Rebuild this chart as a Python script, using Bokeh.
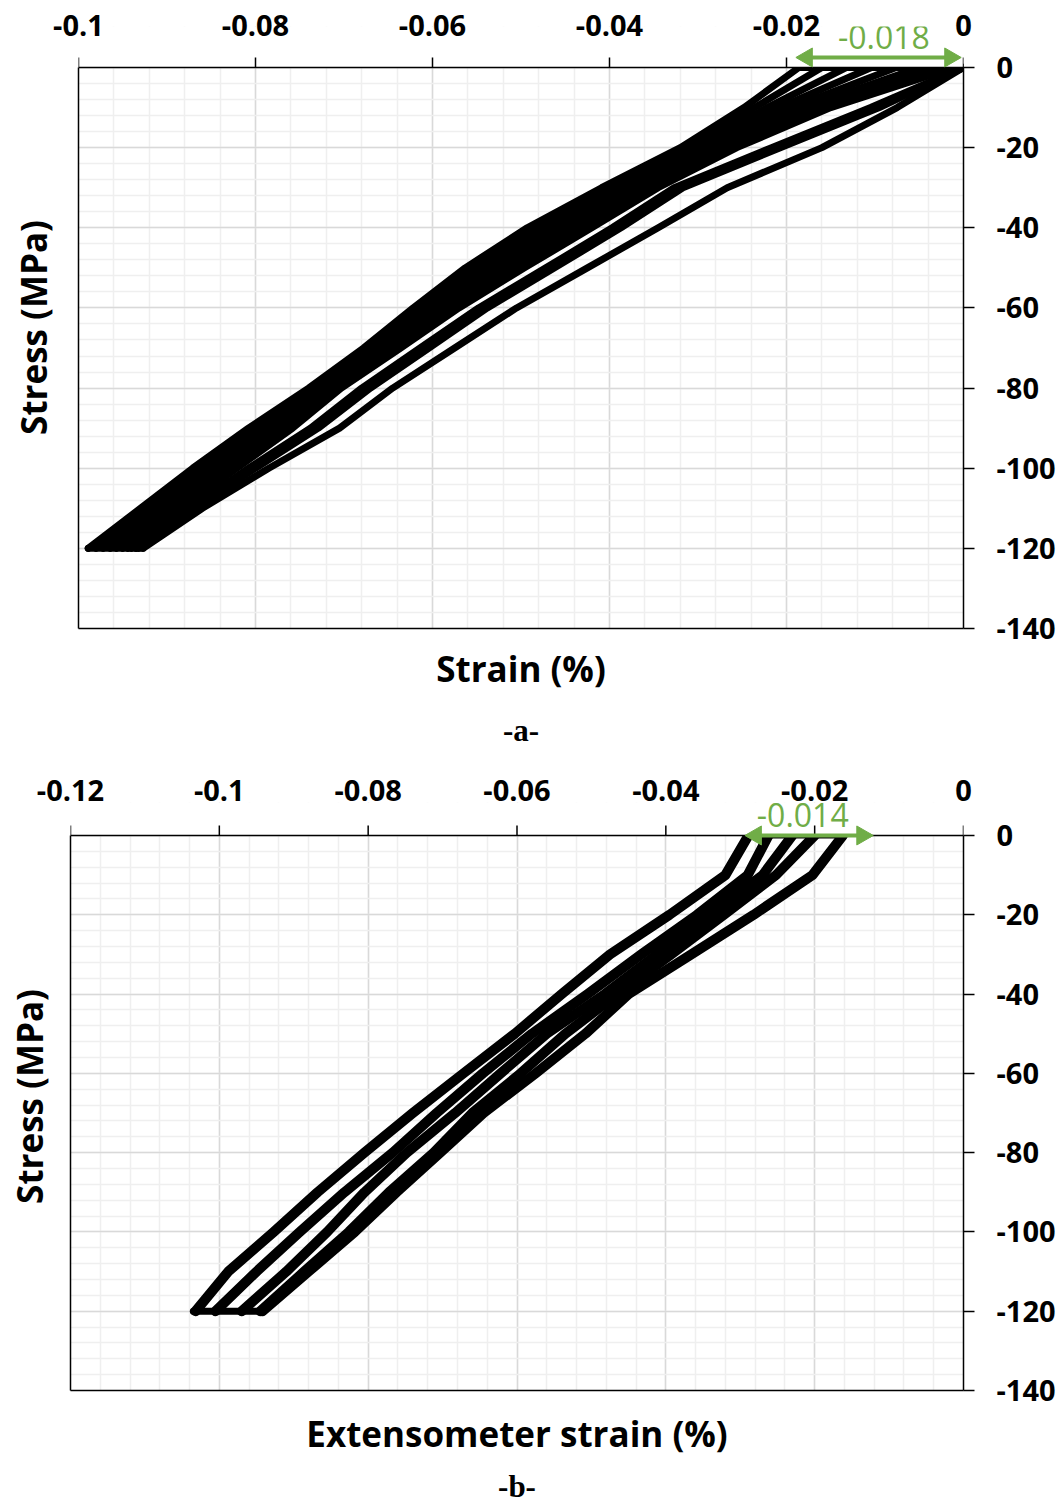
import numpy as np
from bokeh.plotting import figure
from bokeh.models import (Range1d, FixedTicker, NumeralTickFormatter, LinearAxis, Grid, Title)
from bokeh.core.properties import value
from bokeh.layouts import column
from bokeh.embed import file_html
from bokeh.resources import INLINE

# ---------------- data ----------------
stress_levels = [0, -10, -20, -30, -40, -50, -60, -70, -80, -90, -100, -110, -120]

# panel a: strain (%) of each loading/unloading path at the stress levels above
a_c1 = [-0.0186, -0.0248, -0.0320, -0.0409, -0.0493, -0.0563, -0.0622, -0.0678, -0.0740, -0.0808, -0.0871, -0.0930, -0.0989]
a_c2 = [-0.0160, -0.0236, -0.0311, -0.0399, -0.0482, -0.0553, -0.0614, -0.0673, -0.0736, -0.0802, -0.0864, -0.0922, -0.0980]
a_c3 = [-0.0132, -0.0222, -0.0301, -0.0389, -0.0470, -0.0543, -0.0607, -0.0668, -0.0732, -0.0796, -0.0857, -0.0914, -0.0972]
a_c4 = [-0.0104, -0.0208, -0.0292, -0.0379, -0.0459, -0.0533, -0.0600, -0.0662, -0.0727, -0.0789, -0.0849, -0.0906, -0.0964]
a_c5 = [-0.0076, -0.0194, -0.0283, -0.0369, -0.0448, -0.0523, -0.0593, -0.0656, -0.0722, -0.0782, -0.0842, -0.0899, -0.0957]
a_c6 = [-0.0050, -0.0180, -0.0274, -0.0359, -0.0437, -0.0514, -0.0586, -0.0650, -0.0716, -0.0775, -0.0835, -0.0893, -0.0950]
a_c7 = [-0.0028, -0.0165, -0.0265, -0.0352, -0.0428, -0.0505, -0.0578, -0.0643, -0.0710, -0.0767, -0.0828, -0.0887, -0.0944]
a_c8 = [-0.0010, -0.0150, -0.0256, -0.0345, -0.0420, -0.0496, -0.0570, -0.0636, -0.0703, -0.0758, -0.0821, -0.0882, -0.0940]
a_m1 = [0.0, -0.0105, -0.0217, -0.0327, -0.0397, -0.0472, -0.0548, -0.0614, -0.0680, -0.0738, -0.0808, -0.0873, -0.0935]
a_m2 = [0.0, -0.0095, -0.0207, -0.0317, -0.0387, -0.0462, -0.0538, -0.0604, -0.0670, -0.0729, -0.0800, -0.0867, -0.0932]
a_w = [0.0, -0.0075, -0.0160, -0.0267, -0.0345, -0.0425, -0.0505, -0.0575, -0.0645, -0.0705, -0.0785, -0.0860, -0.0927]
a_peak_strain = [-0.0989, -0.0927]   # at -120 MPa
a_zero_strain = [-0.0186, 0.0]       # at 0 MPa

# panel b: extensometer strain (%)
b_c1 = [-0.0289, -0.0320, -0.0395, -0.0475, -0.0540, -0.0603, -0.0672, -0.0740, -0.0805, -0.0868, -0.0927, -0.0988, -0.1032]
b_c2 = [-0.0262, -0.0290, -0.0358, -0.0433, -0.0505, -0.0580, -0.0646, -0.0708, -0.0767, -0.0832, -0.0892, -0.0950, -0.1005]
b_c3 = [-0.0230, -0.0270, -0.0340, -0.0412, -0.0482, -0.0560, -0.0622, -0.0683, -0.0748, -0.0805, -0.0855, -0.0910, -0.0970]
b_c4 = [-0.0200, -0.0252, -0.0322, -0.0393, -0.0465, -0.0535, -0.0595, -0.0660, -0.0712, -0.0772, -0.0826, -0.0886, -0.0945]
b_c5 = [-0.0162, -0.0203, -0.0282, -0.0366, -0.0450, -0.0508, -0.0575, -0.0645, -0.0703, -0.0762, -0.0818, -0.0880, -0.0942]
b_peak_strain = [-0.1035, -0.0942]
b_zero_strain = [-0.0289, -0.0160]

a_xticks = [-0.1, -0.08, -0.06, -0.04, -0.02, 0.0]
b_xticks = [-0.12, -0.1, -0.08, -0.06, -0.04, -0.02, 0.0]
yticks = [-140, -120, -100, -80, -60, -40, -20, 0]

# residual-strain annotations (arrow ends in strain %, label)
a_arrow = [-0.0186, -0.0006]
a_residual_label = "-0.018"
b_arrow = [-0.0290, -0.0125]
b_residual_label = "-0.014"

GREEN = "#70AD47"
FONT = "Open Sans"


def blank_axis(**kw):
    opts = dict(ticker=FixedTicker(ticks=[]), major_tick_out=0, major_tick_in=0,
                minor_tick_out=0, minor_tick_in=0, major_label_standoff=0,
                axis_label_text_font=FONT, axis_label_text_font_style="bold",
                axis_label_text_font_size="35px", axis_label_text_color="black",
                axis_line_color="black", axis_line_width=1.5)
    opts.update(kw)
    return LinearAxis(**opts)


def make_fig(xmin, ytop, xticks, fw, fh, bl, bt, br, bb, top_standoff,
             left_standoff, bottom_standoff, xlabel, caption, cap_standoff, cap_offset):
    p = figure(frame_width=fw, frame_height=fh,
               x_range=Range1d(xmin, 0), y_range=Range1d(-140, ytop),
               x_axis_location=None, y_axis_location=None,
               output_backend="svg", toolbar_location=None,
               min_border_left=bl, min_border_top=bt,
               min_border_right=br, min_border_bottom=bb)
    p.frame_align = False
    p.background_fill_color = "white"
    p.border_fill_color = "white"
    p.outline_line_color = None

    xminor = [float(v) for v in np.round(np.arange(xmin, 0.00001, 0.004), 4)]
    yminor = [float(v) for v in np.arange(-140, 0.1, 4)]
    xt = FixedTicker(ticks=xticks, minor_ticks=xminor)
    yt = FixedTicker(ticks=yticks, minor_ticks=yminor)

    # tick labels along the top
    top = LinearAxis(ticker=xt, formatter=NumeralTickFormatter(format="0.[000]"),
                     axis_line_color=None, major_tick_line_color=None,
                     minor_tick_line_color=None, major_tick_out=0, major_tick_in=0,
                     minor_tick_out=0, minor_tick_in=0,
                     major_label_standoff=top_standoff,
                     major_label_text_font=FONT, major_label_text_font_style="bold",
                     major_label_text_font_size="29px", major_label_text_color="black")
    p.add_layout(top, "above")

    right = LinearAxis(ticker=yt, formatter=NumeralTickFormatter(format="0"),
                       bounds=(-140, 0), axis_line_color="black", axis_line_width=1.5,
                       major_tick_line_color="black", major_tick_line_width=1.5,
                       major_tick_out=11, major_tick_in=0, minor_tick_line_color=None,
                       major_label_standoff=22,
                       major_label_text_font=FONT, major_label_text_font_style="bold",
                       major_label_text_font_size="29px", major_label_text_color="black")
    p.add_layout(right, "right")

    p.add_layout(blank_axis(bounds=(-140, 0)), "left")
    p.add_layout(blank_axis(bounds=(-140, ytop), axis_line_color=None,
                            axis_label="Stress (MPa)", axis_label_standoff=left_standoff), "left")
    p.add_layout(blank_axis(), "below")
    p.add_layout(blank_axis(axis_line_color=None, axis_label=xlabel,
                            axis_label_standoff=bottom_standoff), "below")
    p.add_layout(Title(text=caption, align="center", offset=cap_offset,
                       text_font="Liberation Serif", text_font_size="31px",
                       text_font_style="bold", text_color="black",
                       standoff=cap_standoff), "below")

    for dim, tk in ((0, xt), (1, yt)):
        p.add_layout(Grid(dimension=dim, ticker=tk, grid_line_color="#d9d9d9",
                          grid_line_width=1.5, minor_grid_line_color="#efefef",
                          minor_grid_line_width=1.5))
    return p


def finish(p, xmin, ytop, xticks, tick_len):
    # blank the strip above the 0 MPa line, then draw the top axis line and its ticks
    p.quad(left=[xmin], right=[0], bottom=[0], top=[ytop], fill_color="white", line_color=None)
    p.segment(x0=[xmin], y0=[0], x1=[0], y1=[0], line_color="black", line_width=1.5)
    p.segment(x0=xticks, y0=[0] * len(xticks), x1=xticks, y1=[tick_len] * len(xticks),
              line_color="black", line_width=1.5)


def residual_arrow(p, xs, y, head_dx, label, label_x, label_y):
    p.segment(x0=[xs[0]], y0=[y], x1=[xs[1]], y1=[y], line_color=GREEN, line_width=4)
    p.scatter(x=[xs[0] + head_dx, xs[1] - head_dx], y=[y, y], marker="triangle",
              angle=[np.pi / 2, -np.pi / 2], size=19, fill_color=GREEN, line_color=GREEN)
    p.text(x=[label_x], y=[label_y], text=[label], text_font=value(FONT),
           text_font_size="32px", text_color=GREEN, text_align="center",
           text_baseline="middle")


# ---------------- panel a ----------------
A_TOP = 10.23
fa = make_fig(-0.1, A_TOP, a_xticks, 885, 602, 78, 26, 95, 137, -9, 22, 16,
              "Strain (%)", "-a-", 32, -9)
for c in (a_w, a_m2, a_m1, a_c8, a_c7, a_c6, a_c5, a_c4, a_c3, a_c2, a_c1):
    fa.line(c, stress_levels, line_color="black", line_width=7, line_cap="round", line_join="round")
fa.line(a_peak_strain, [-120, -120], line_color="black", line_width=7, line_cap="round")
fa.line(a_zero_strain, [0, 0], line_color="black", line_width=7, line_cap="round")
finish(fa, -0.1, A_TOP, a_xticks, 2.5)
residual_arrow(fa, a_arrow, 2.5, 0.0009, a_residual_label, -0.0090, 7.49)

# ---------------- panel b ----------------
B_TOP = 8.32
fb = make_fig(-0.12, B_TOP, b_xticks, 893, 588, 70, 37, 95, 118, 2, 18, 19,
              "Extensometer strain (%)", "-b-", 14, -5)
for c in (b_c5, b_c4, b_c3, b_c2, b_c1):
    fb.line(c, stress_levels, line_color="black", line_width=10, line_cap="round", line_join="round")
fb.line(b_peak_strain, [-120, -120], line_color="black", line_width=7, line_cap="round")
fb.line(b_zero_strain, [0, 0], line_color="black", line_width=6, line_cap="round")
finish(fb, -0.12, B_TOP, b_xticks, 2.52)
residual_arrow(fb, b_arrow, 0.0, 0.0011, b_residual_label, -0.0216, 5.05)

layout = column(fa, fb)
open("out.html", "w").write(file_html(layout, INLINE))
